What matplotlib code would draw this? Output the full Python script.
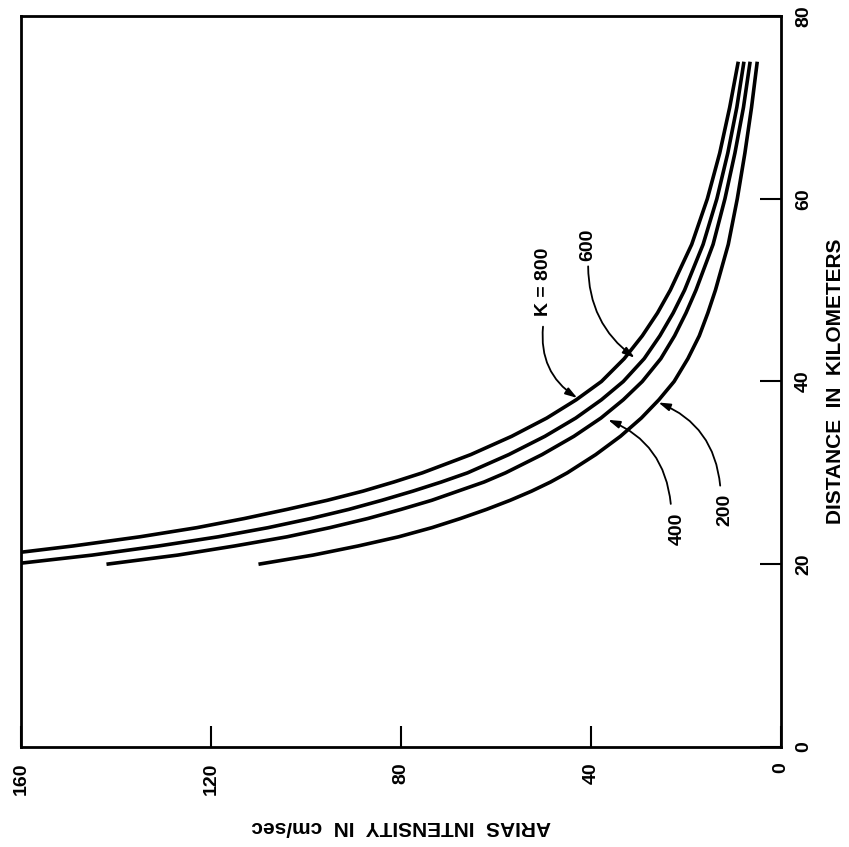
import matplotlib
matplotlib.use('agg')
import matplotlib.pyplot as plt

plt.rcParams['font.family'] = ['Liberation Sans', 'DejaVu Sans']
plt.rcParams['font.weight'] = 'bold'

# distance (km) and Arias intensity (cm/sec)
distance = [20, 21, 22, 23, 24, 25, 26, 27, 28, 29, 30, 32, 34, 36, 38, 40,
            42.5, 45, 47.5, 50, 55, 60, 65, 70, 75]
arias_k800 = [184, 165, 149, 135, 123, 113, 104, 95.5, 88, 81.5, 75.5, 65.3, 56.7,
              49.3, 43.1, 37.8, 33, 29.2, 26, 23.3, 18.8, 15.5, 12.9, 10.8, 9.0]
arias_k600 = [162, 145, 131, 118.5, 108, 99, 91, 84, 77.5, 71.5, 66, 57.3, 49.7,
              43.2, 37.8, 33.2, 28.8, 25.5, 22.7, 20.3, 16.4, 13.5, 11.2, 9.3, 7.8]
arias_k400 = [142, 127, 115, 104, 95, 87, 80, 73.5, 68, 62.5, 58, 50.3, 43.6,
              37.9, 33.2, 29.2, 25.3, 22.4, 20, 17.9, 14.3, 11.8, 9.7, 7.9, 6.5]
arias_k200 = [110, 98.5, 89, 80.5, 73.5, 67.5, 62, 57, 52.5, 48.5, 45, 39, 33.8,
              29.4, 25.7, 22.5, 19.6, 17.2, 15.4, 13.8, 11.1, 9.2, 7.6, 6.2, 5.0]

# label text, label position (intensity, distance), arrow tail, arrow tip
labels = ['K = 800', '600', '400', '200']
label_pos = [(50.1, 50.9), (40.6, 55.0), (21.9, 23.9), (11.8, 25.9)]
arrow_tail = [(50.1, 46.0), (40.6, 52.6), (23.2, 26.6), (12.8, 28.6)]
arrow_tip = [(42.9, 38.2), (30.8, 42.6), (36.4, 35.8), (25.8, 37.7)]
arrow_rad = [0.3, 0.25, 0.3, 0.3]

fig = plt.figure(figsize=(8.49, 8.47), dpi=100)
ax = fig.add_axes([0.0247, 0.1181, 0.8952, 0.8630])

for series in [arias_k800, arias_k600, arias_k400, arias_k200]:
    ax.plot(series, distance, color='black', lw=2.6, solid_capstyle='butt',
            solid_joinstyle='round')

for i in range(len(labels)):
    ax.text(label_pos[i][0], label_pos[i][1], labels[i], rotation=90,
            ha='center', va='center', fontsize=14, fontweight='bold')
    ax.annotate('', xy=arrow_tip[i], xytext=arrow_tail[i],
                arrowprops=dict(arrowstyle='-|>,head_length=0.7,head_width=0.22',
                                color='black', lw=1.3, shrinkA=0, shrinkB=0,
                                connectionstyle='arc3,rad=%s' % arrow_rad[i]))

ax.set_xlim(160, 0)
ax.set_ylim(0, 80)
ax.set_xticks([160, 120, 80, 40, 0])
ax.set_yticks([0, 20, 40, 60, 80])
ax.yaxis.tick_right()
ax.yaxis.set_label_position('right')
ax.tick_params(direction='in', length=15, width=1.5, labelsize=14)
ax.tick_params(axis='x', pad=11, labelrotation=90)
ax.tick_params(axis='y', pad=10, labelrotation=90)
for lab in ax.get_yticklabels():
    lab.set_va('center')
for lab in ax.get_xticklabels() + ax.get_yticklabels():
    lab.set_fontweight('bold')
for sp in ax.spines.values():
    sp.set_linewidth(2)

ax.set_xlabel('ARIAS  INTENSITY  IN  cm/sec', fontsize=15, fontweight='bold',
              rotation=180, labelpad=16)
ax.set_ylabel('DISTANCE  IN  KILOMETERS', fontsize=15, fontweight='bold',
              rotation=90, labelpad=10)

fig.savefig('out.png', dpi=100)
